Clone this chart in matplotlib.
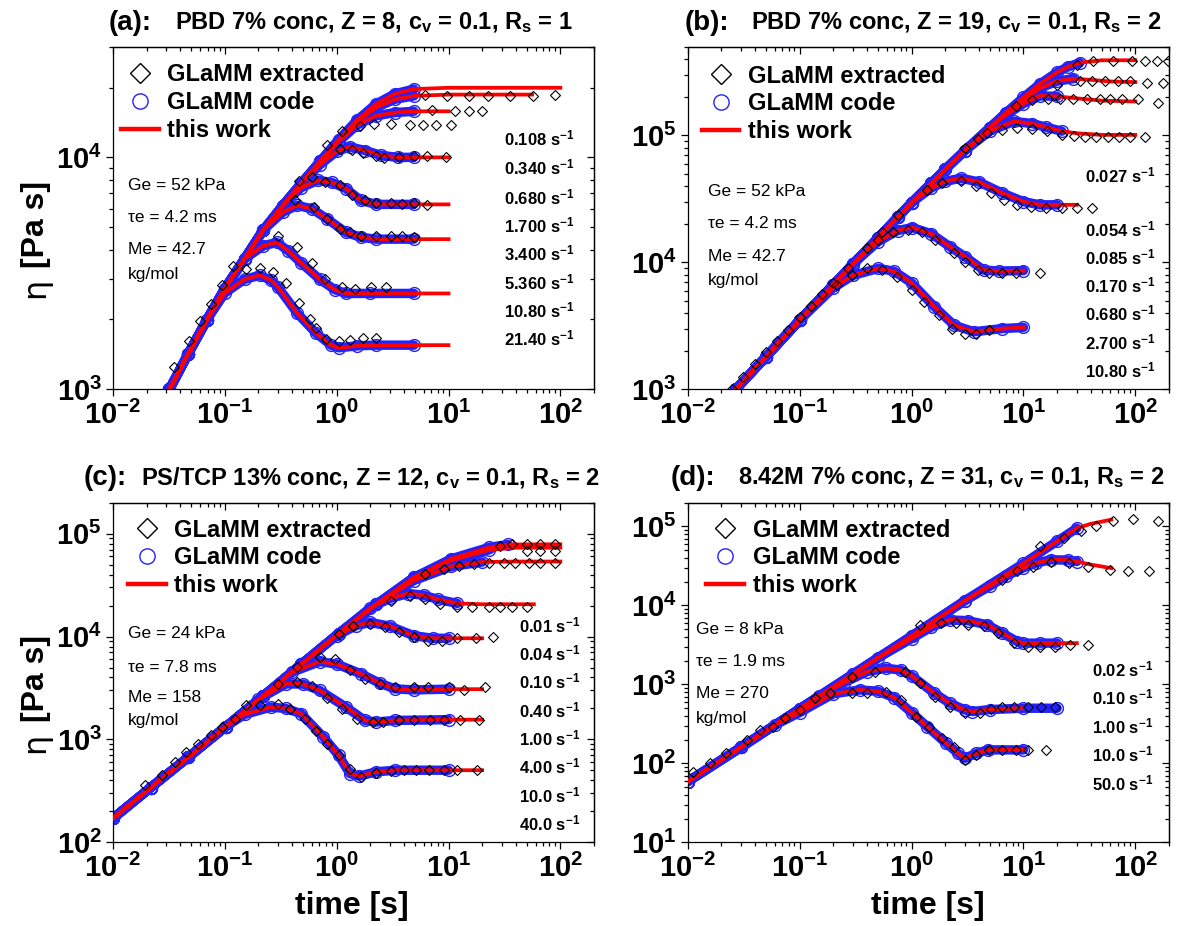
import numpy as np
import matplotlib
matplotlib.use("Agg")
import matplotlib.pyplot as plt
from matplotlib.lines import Line2D
from matplotlib.ticker import LogLocator, FuncFormatter, NullFormatter

plt.rcParams["font.family"] = ["Liberation Sans", "DejaVu Sans"]
plt.rcParams["mathtext.fontset"] = "custom"
for k in ("rm", "it", "bf", "sf"):
    plt.rcParams["mathtext." + k] = "Liberation Sans:bold"

# ---------------- panel (a) PBD 7%, Z = 8 ----------------
a_rates = ["0.108", "0.340", "0.680", "1.700", "3.400", "5.360", "10.80", "21.40"]
a_t = [
    [0.032, 0.047, 0.069, 0.10, 0.15, 0.22, 0.33, 0.48, 0.71, 1.04, 1.53, 2.25, 3.32, 4.9, 10, 100],
    [0.032, 0.047, 0.069, 0.10, 0.15, 0.22, 0.33, 0.48, 0.71, 1.04, 1.53, 2.25, 3.32, 4.9, 10, 56],
    [0.032, 0.047, 0.069, 0.10, 0.15, 0.22, 0.33, 0.48, 0.71, 1.04, 1.53, 2.25, 3.32, 4.9, 10],
    [0.032, 0.047, 0.069, 0.10, 0.15, 0.22, 0.33, 0.48, 0.71, 1.0, 1.31, 1.8, 2.5, 3.5, 4.9, 10],
    [0.032, 0.047, 0.069, 0.10, 0.15, 0.22, 0.33, 0.48, 0.68, 0.9, 1.21, 1.65, 2.25, 4.9, 10],
    [0.032, 0.047, 0.069, 0.10, 0.15, 0.22, 0.33, 0.443, 0.6, 0.82, 1.21, 1.65, 2.25, 4.9, 10],
    [0.032, 0.047, 0.069, 0.10, 0.15, 0.22, 0.29, 0.37, 0.48, 0.706, 0.96, 1.21, 2.0, 4.9, 10],
    [0.032, 0.047, 0.069, 0.10, 0.15, 0.205, 0.26, 0.30, 0.443, 0.65, 0.89, 1.04, 1.53, 2.25, 4.9, 10],
]
a_eta = [
    [1000, 1420, 1990, 2720, 3650, 4850, 6200, 7700, 9600, 11900, 14500, 17000, 18800, 19700, 19950, 19950],
    [1000, 1420, 1990, 2720, 3650, 4850, 6200, 7700, 9600, 11900, 14300, 16400, 17800, 18400, 18650, 18650],
    [1000, 1420, 1990, 2720, 3650, 4850, 6200, 7700, 9600, 11700, 13800, 15100, 15600, 15800, 15800],
    [1000, 1420, 1990, 2720, 3650, 4850, 6200, 7700, 9300, 10600, 11100, 10700, 10200, 10000, 10000, 10000],
    [1000, 1420, 1990, 2720, 3650, 4850, 6200, 7400, 7960, 7800, 7330, 6520, 6270, 6270, 6270],
    [1000, 1420, 1990, 2720, 3650, 4850, 5800, 6210, 6000, 5430, 4750, 4520, 4440, 4440, 4440],
    [1000, 1420, 1990, 2720, 3650, 4150, 4300, 3950, 3510, 2980, 2690, 2590, 2590, 2590, 2590],
    [1000, 1420, 1990, 2600, 2980, 3100, 2950, 2750, 2130, 1750, 1550, 1510, 1540, 1550, 1550, 1550],
]
a_red_end = [100, 56, 10, 10, 10, 10, 10, 10]
a_code_end = [5, 5, 5, 5, 5, 5, 5, 5]
a_ext_t = [0.035, 0.048, 0.060, 0.075, 0.094, 0.119,
           0.156, 0.205, 0.268, 0.352, 0.461, 0.582, 0.654, 0.811, 1.04, 1.31, 1.72, 2.25,
           0.301, 0.443, 0.605, 0.793, 1.12, 1.47, 2.01, 2.74,
           0.427, 0.628, 0.824, 1.08, 1.31, 1.65, 2.25, 3.07, 3.87, 4.89,
           0.461, 0.605, 0.793, 1.08, 1.36, 1.79, 2.25, 3.07, 3.87, 4.89, 6.41,
           0.824, 1.08, 1.36, 1.72, 2.25, 2.63, 3.59, 4.89, 6.41, 9.44,
           1.12, 1.63, 2.17, 3.07, 4.52, 5.93, 7.78, 10.6,
           7.19, 11.4, 15.1, 20.1,
           6.17, 9.6, 15.3, 22.6, 35.3, 57, 89]
a_ext_eta = [1250, 1620, 1975, 2340, 2830, 3400,
             3310, 3350, 3200, 2880, 2360, 2010, 1835, 1644, 1622, 1634, 1661, 1672,
             4560, 4090, 3520, 2980, 2770, 2710, 2770, 2770,
             6520, 6100, 5430, 4910, 4750, 4600, 4570, 4570, 4570, 4520,
             7890, 8240, 7830, 7580, 6860, 6520, 6370, 6370, 6310, 6370, 6250,
             11300, 10870, 10760, 10400, 10160, 9970, 10070, 10160, 10160, 10070,
             12930, 13600, 13920, 13920, 13820, 13820, 13820, 13820,
             16060, 15800, 15900, 15800,
             18540, 18350, 18350, 18350, 18350, 18350, 18500]
a_params = ["Ge = 52 kPa", "\u03c4e = 4.2 ms", "Me = 42.7", "kg/mol"]

# ---------------- panel (b) PBD 7%, Z = 19 ----------------
b_rates = ["0.027", "0.054", "0.085", "0.170", "0.680", "2.700", "10.80"]
b_t = [
    [0.0269, 0.05, 0.1, 0.2, 0.3, 0.5, 0.75, 1.0, 1.5, 2.0, 3.0, 5.0, 7.0, 10, 14, 20, 25, 32, 50, 100],
    [0.0269, 0.05, 0.1, 0.2, 0.3, 0.5, 0.75, 1.0, 1.5, 2.0, 3.0, 5.0, 7.0, 10, 14, 20, 28, 40, 60, 100],
    [0.0269, 0.05, 0.1, 0.2, 0.3, 0.5, 0.75, 1.0, 1.5, 2.0, 3.0, 5.0, 7.0, 10, 14, 20, 30, 50, 100],
    [0.0269, 0.05, 0.1, 0.2, 0.3, 0.5, 0.75, 1.0, 1.5, 2.0, 3.0, 5.0, 8.2, 12, 16, 22, 30, 50, 100],
    [0.0269, 0.05, 0.1, 0.2, 0.3, 0.5, 0.75, 1.0, 1.5, 2.0, 2.77, 4.0, 6.5, 10, 14, 20, 30],
    [0.0269, 0.05, 0.1, 0.2, 0.3, 0.5, 0.75, 1.02, 1.5, 2.2, 3.0, 4.4, 6.0, 10],
    [0.0269, 0.05, 0.1, 0.2, 0.3, 0.507, 0.7, 1.0, 1.6, 2.4, 3.6, 6.5, 10],
]
b_eta = [
    [1000, 1800, 3500, 6650, 9700, 15500, 22600, 29500, 42000, 54000, 76000, 115000, 151000, 199000,
     254000, 314000, 347000, 374000, 391000, 391000],
    [1000, 1800, 3500, 6650, 9700, 15500, 22600, 29500, 42000, 54000, 76000, 115000, 151000, 190000,
     235000, 268000, 280000, 274000, 266000, 263000],
    [1000, 1800, 3500, 6650, 9700, 15500, 22600, 29500, 42000, 54000, 76000, 115000, 145000, 178000,
     205000, 203000, 196000, 188000, 185000],
    [1000, 1800, 3500, 6650, 9700, 15500, 22600, 29500, 42000, 54000, 76000, 108000, 129000, 124000,
     116000, 108000, 104000, 101000, 101000],
    [1000, 1800, 3500, 6650, 9700, 15500, 22600, 29500, 38500, 43500, 46000, 43000, 35100, 30100,
     28400, 28400, 28400],
    [1000, 1800, 3500, 6650, 9700, 14500, 17800, 18800, 16800, 13300, 11100, 8700, 8550, 8600],
    [1000, 1800, 3500, 6300, 7900, 8970, 8500, 6900, 4470, 3200, 2840, 3010, 3070],
]
b_red_end = [100, 100, 100, 100, 30, 10, 10]
b_code_end = [32, 28, 20, 22, 20, 10, 10]
b_ext_t = [0.025, 0.031, 0.04, 0.05, 0.063, 0.079, 0.1, 0.126, 0.159, 0.2, 0.27, 0.4, 0.55, 0.75,
           0.216, 0.295, 0.402, 0.547, 0.745, 1.02, 1.28, 1.75, 2.29, 3.0, 3.78, 4.95,
           0.507, 0.69, 0.94, 1.23, 1.61, 2.38, 3.0, 3.93, 4.95, 6.49, 8.5, 14.1,
           1.38, 1.88, 2.77, 3.78, 5.14, 6.74, 8.84, 11.6, 15.8, 22.3, 30.4, 41.4,
           3.0, 3.93, 4.77, 6.49, 8.84, 12.0, 16.4, 22.3, 28.2, 35.5, 44.7, 56.5, 71.2, 89.7, 122,
           8.5, 12, 16.6, 21.2, 27.7, 37, 48.3, 59.4, 76, 106, 160,
           20, 32, 40.7, 53.6, 70, 89.5, 126, 177,
           30, 41.9, 63, 93.3, 122, 156, 196]
b_ext_eta = [1000, 1250, 1580, 1950, 2400, 2950, 3700, 4550, 5600, 6900, 9000, 13000, 17500, 23500,
             6620, 7940, 8970, 8690, 7710, 6050, 4890, 3840, 3010, 2750, 2750, 2920,
             15000, 17500, 18000, 17500, 15000, 11800, 10100, 8690, 8280, 8280, 8280, 8280,
             37200, 42000, 43400, 39600, 35100, 31100, 28400, 27200, 26700, 26700, 26700, 26700,
             80000, 93000, 104000, 111000, 114000, 112000, 108000, 101000, 98100, 97000, 97000, 97000,
             97000, 97000, 97000,
             170000, 190000, 194000, 194000, 194000, 194000, 194000, 194000, 194000, 194000, 180000,
             250000, 270000, 270000, 270000, 270000, 270000, 260000, 260000,
             360000, 388000, 388000, 388000, 384000, 384000, 388000]
b_params = ["Ge = 52 kPa", "\u03c4e = 4.2 ms", "Me = 42.7", "kg/mol"]

# ---------------- panel (c) PS/TCP 13%, Z = 12 ----------------
c_rates = ["0.01", "0.04", "0.10", "0.40", "1.00", "4.00", "10.0", "40.0"]
c_t = [
    [0.01, 0.0217, 0.047, 0.102, 0.221, 0.48, 1.04, 2.25, 4.89, 10.6, 23, 34, 100],
    [0.01, 0.0217, 0.047, 0.102, 0.221, 0.48, 1.04, 2.25, 4.89, 10.6, 23, 40, 100],
    [0.01, 0.0217, 0.047, 0.102, 0.221, 0.48, 1.04, 2.25, 4.89, 10.6, 20, 40, 100],
    [0.01, 0.0217, 0.047, 0.102, 0.221, 0.48, 1.04, 2.0, 3.0, 4.35, 6.0, 8.0, 12, 20, 58],
    [0.01, 0.0217, 0.047, 0.102, 0.221, 0.48, 1.0, 1.5, 2.0, 3.0, 4.89, 7.2, 10, 20],
    [0.01, 0.0217, 0.047, 0.102, 0.221, 0.4, 0.706, 1.0, 1.65, 2.43, 3.32, 4.89, 10, 20],
    [0.01, 0.0217, 0.047, 0.102, 0.2, 0.352, 0.5, 0.706, 1.21, 1.79, 2.25, 3.32, 10, 20],
    [0.01, 0.0217, 0.047, 0.102, 0.15, 0.258, 0.35, 0.48, 0.76, 1.04, 1.31, 1.59, 2.25, 3.32, 10, 20],
]
c_eta = [
    [171, 340, 670, 1330, 2650, 5350, 10700, 20500, 37500, 57000, 73500, 78500, 78900],
    [171, 340, 670, 1330, 2650, 5350, 10700, 20500, 37500, 55000, 69500, 73100, 73100],
    [171, 340, 670, 1330, 2650, 5350, 10700, 20500, 35000, 48000, 53000, 53600, 53600],
    [171, 340, 670, 1330, 2650, 5350, 10700, 19000, 23500, 26200, 25200, 23000, 21000, 20600, 20600],
    [171, 340, 670, 1330, 2650, 5350, 10200, 12800, 13700, 12600, 10200, 9620, 9620, 9620],
    [171, 340, 670, 1330, 2650, 4500, 5710, 5400, 4340, 3520, 3100, 3030, 3080, 3080],
    [171, 340, 670, 1330, 2450, 3470, 3450, 2990, 2060, 1530, 1476, 1530, 1556, 1556],
    [171, 340, 670, 1330, 1750, 2060, 2000, 1780, 1057, 702, 466, 440, 484, 502, 502, 502],
]
c_red_end = [100, 100, 100, 58, 20, 20, 20, 20]
c_code_end = [34, 23, 20, 12, 10, 10, 10, 10]
c_ext_t = [0.0193, 0.0274, 0.0359, 0.0452, 0.057, 0.0748, 0.0944, 0.124,
           0.156, 0.205, 0.30, 0.38, 0.52, 0.654, 0.824, 1.04, 1.31, 1.65, 2.25, 3.07, 4.0, 5.1, 6.7,
           9.1, 11.9, 18.1,
           0.3, 0.44, 0.6, 0.82, 1.12, 1.53, 2.1, 2.6, 3.6, 4.9, 6.9, 9.1, 12.7, 18.9,
           0.44, 0.706, 0.96, 1.31, 1.79, 2.43, 3.32, 4.89, 6.6, 10, 13.8, 21.3,
           1.04, 1.41, 2.0, 2.7, 3.6, 4.9, 6.6, 8.7, 11.9, 17.7, 24.8,
           3.07, 4.52, 6.2, 8.4, 11.9, 16.2, 23, 29, 36.6, 50,
           6.2, 9.1, 12.4, 16.8, 23, 31.4, 39.4, 53, 66, 89,
           29, 36.6, 50, 66, 89, 50, 66, 89]
c_ext_eta = [359, 449, 604, 755, 909, 1097, 1320, 1590,
             2140, 2140, 2220, 1980, 1590, 1220, 910, 702, 520, 432, 472, 495, 502, 502, 502, 502, 502, 502,
             3470, 3600, 3330, 2550, 1980, 1590, 1476, 1476, 1530, 1530, 1530, 1530, 1556, 1556,
             5030, 6300, 6000, 4680, 3880, 3470, 3220, 3220, 3220, 3220, 2990, 3220,
             10600, 12700, 13200, 12300, 11000, 9830, 9120, 9120, 9620, 9620, 9830,
             22300, 24900, 23100, 20500, 19500, 19200, 19200, 19200, 19200, 19200,
             40400, 45100, 48600, 51000, 52400, 52400, 52400, 52400, 52400, 52400,
             75900, 80000, 80000, 80000, 80000, 67900, 67300, 67300]
c_params = ["Ge = 24 kPa", "\u03c4e = 7.8 ms", "Me = 158", "kg/mol"]

# ---------------- panel (d) 8.42M 7%, Z = 31 ----------------
d_rates = ["0.02", "0.10", "1.00", "10.0", "50.0"]
d_t = [
    [0.01, 0.03, 0.1, 0.3, 1.0, 3.0, 10, 20, 30, 40, 61],
    [0.01, 0.03, 0.1, 0.3, 1.0, 3.0, 5.0, 7.0, 10, 13, 17.7, 25, 30, 41, 61],
    [0.01, 0.03, 0.1, 0.3, 0.5, 1.0, 1.5, 2.2, 3.2, 4.77, 6.5, 8.8, 10, 14, 20, 30],
    [0.01, 0.03, 0.1, 0.15, 0.25, 0.4, 0.59, 0.8, 1.02, 1.6, 2.2, 3.0, 3.5, 5.0, 10, 20],
    [0.01, 0.03, 0.06, 0.1, 0.2, 0.344, 0.5, 0.7, 1.02, 1.38, 2.04, 2.6, 3.0, 3.8, 4.8, 10],
]
d_eta = [
    [58.7, 160, 490, 1350, 4100, 11500, 34000, 65000, 95000, 108000, 122000],
    [58.7, 160, 490, 1350, 4100, 11500, 17500, 23500, 30000, 34500, 37900, 37500, 36000, 32700, 29700],
    [58.7, 160, 490, 1350, 2160, 3800, 5300, 6560, 6400, 5680, 4450, 3490, 3330, 3330, 3330, 3330],
    [58.7, 160, 490, 711, 1050, 1450, 1600, 1520, 1260, 773, 577, 475, 453, 480, 499, 499],
    [58.7, 160, 305, 440, 760, 851, 820, 680, 431, 292, 180, 134, 116, 134, 148, 148],
]
d_red_end = [61, 61, 30, 10, 10]
d_code_end = [30, 30, 20, 20, 10]
d_ext_t = [0.0111, 0.0157, 0.0221, 0.0339, 0.0444, 0.0582, 0.0734, 0.1,
           0.136, 0.185, 0.295, 0.402, 0.59, 0.80, 1.10, 1.44, 1.88, 2.38, 3.0, 3.78, 4.95, 6.5, 8.5,
           11.1, 15.8,
           0.295, 0.47, 0.87, 1.18, 1.61, 2.2, 3.0, 4.1, 5.1, 6.5, 8.2, 11.1, 14.5, 19.0,
           1.18, 1.83, 2.5, 3.2, 4.4, 5.95, 8.2, 10.9, 14.1, 19.0, 26.2, 37.7,
           6.5, 8.8, 12.1, 17.7, 25.7, 37.7, 58.8, 86.6, 132,
           14.1, 23.1, 32.6, 44.7, 63, 95, 160]
d_ext_eta = [78.5, 100, 134, 198, 265, 292, 372, 475,
             668, 773, 773, 773, 811, 636, 391, 292, 208, 163, 110, 128, 148, 148, 148, 148, 148,
             1256, 1456, 1456, 1035, 702, 524, 431, 431, 484, 524, 524, 524, 524, 524,
             5680, 5960, 5960, 5680, 5410, 4450, 3330, 3010, 3010, 3010, 3180, 3180,
             21100, 26900, 31100, 36000, 34300, 31100, 28200, 27400, 27000,
             55800, 71100, 86500, 100000, 118000, 124000, 117000]
d_params = ["Ge = 8 kPa", "\u03c4e = 1.9 ms", "Me = 270", "kg/mol"]

# ---------------- drawing ----------------
W, H = 1181, 926
BLUE = "#2222ff"
fig = plt.figure(figsize=(W / 100, H / 100), dpi=100)


def T(x, y, s, **kw):
    kw.setdefault("va", "center")
    fig.text(x / W, 1 - y / H, s, **kw)


def decade(v, pos):
    return r"$10^{%d}$" % int(round(np.log10(v)))


def set_log_ticks(axis, labels=True):
    axis.set_major_locator(LogLocator(base=10, numticks=15))
    axis.set_minor_locator(LogLocator(base=10, subs=np.arange(2, 10), numticks=15))
    axis.set_major_formatter(FuncFormatter(decade) if labels else NullFormatter())
    axis.set_minor_formatter(NullFormatter())


def panel(box, ylim, ts, etas, red_end, code_end, ext_t, ext_eta, leg_xy):
    x0, y0, x1, y1 = box
    ax = fig.add_axes([x0 / W, 1 - y1 / H, (x1 - x0) / W, (y1 - y0) / H])
    ax.set_xscale("log")
    ax.set_yscale("log")
    for t, e, re_, ce in zip(ts, etas, red_end, code_end):
        t = np.array(t, float)
        e = np.array(e, float)
        m = t <= ce
        ax.plot(t[m], e[m], color=BLUE, lw=6.8, solid_capstyle="round",
                solid_joinstyle="round", zorder=2)
        ax.plot(t[m], e[m], ls="none", marker="o", ms=8.5, mfc="none", mec=BLUE,
                mew=1.0, zorder=2)
        m = t <= re_
        ax.plot(t[m], e[m], color="red", lw=2.7, solid_joinstyle="round", zorder=3)
    ax.plot(ext_t, ext_eta, ls="none", marker="D", ms=5.5, mfc="none", mec="black",
            mew=0.8, zorder=4)
    ax.set_xlim(1e-2, 2e2)
    ax.set_ylim(*ylim)
    set_log_ticks(ax.xaxis)
    set_log_ticks(ax.yaxis)
    ax.tick_params(which="both", direction="out", width=0.9, labelsize=21, pad=3)
    ax.tick_params(which="major", length=5)
    ax.tick_params(which="minor", length=3)
    for s in ax.spines.values():
        s.set_linewidth(0.9)
    sx = ax.secondary_xaxis("top")
    sy = ax.secondary_yaxis("right")
    set_log_ticks(sx.xaxis, labels=False)
    set_log_ticks(sy.yaxis, labels=False)
    for sa in (sx, sy):
        sa.tick_params(which="both", direction="in", width=0.9)
        sa.tick_params(which="major", length=5)
        sa.tick_params(which="minor", length=3)
        for s in sa.spines.values():
            s.set_linewidth(0.9)

    hs = [Line2D([], [], ls="none", marker="D", ms=10.5, mfc="none", mec="black", mew=1.0),
          Line2D([], [], ls="none", marker="o", ms=11, mfc="none", mec=BLUE, mew=1.0),
          Line2D([], [], color="red", lw=3.2)]
    ax.legend(hs, ["GLaMM extracted", "GLaMM code", "this work"], loc="upper left",
              bbox_to_anchor=leg_xy, frameon=False, prop={"weight": "bold", "size": 17},
              handlelength=1.6, handletextpad=0.35, labelspacing=0.2, borderpad=0,
              borderaxespad=0)
    return ax


panel((113, 46.7, 594, 389.3), (1e3, 3e4), a_t, a_eta, a_red_end, a_code_end,
      a_ext_t, a_ext_eta, (0.017, 0.951))
panel((687.7, 46.7, 1169, 389.3), (1e3, 5e5), b_t, b_eta, b_red_end, b_code_end,
      b_ext_t, b_ext_eta, (0.029, 0.948))
panel((113, 502.7, 594, 842.3), (1e2, 2e5), c_t, c_eta, c_red_end, c_code_end,
      c_ext_t, c_ext_eta, (0.032, 0.953))
panel((687.7, 502.7, 1169, 842.3), (1e1, 2e5), d_t, d_eta, d_red_end, d_code_end,
      d_ext_t, d_ext_eta, (0.039, 0.953))

# titles
tb = dict(weight="bold", ha="left")
T(109, 23, "(a):", size=20, **tb)
T(175, 23, "PBD 7% conc, Z = 8, c$_{v}$ = 0.1, R$_{s}$ = 1", size=17, **tb)
T(685, 23, "(b):", size=20, **tb)
T(751, 23, "PBD 7% conc, Z = 19, c$_{v}$ = 0.1, R$_{s}$ = 2", size=17, **tb)
T(84, 478, "(c):", size=20, **tb)
T(141, 478, "PS/TCP 13% conc, Z = 12, c$_{v}$ = 0.1, R$_{s}$ = 2", size=17, **tb)
T(671, 478, "(d):", size=20, **tb)
T(738, 478, "8.42M 7% conc, Z = 31, c$_{v}$ = 0.1, R$_{s}$ = 2", size=17, **tb)

# shear-rate labels
for x, ys, rates in [(504, [138, 167, 197, 225, 253, 282, 310, 338], a_rates),
                     (1085, [175, 229, 257, 285, 313, 342, 370], b_rates),
                     (519, [625, 653, 681, 710, 738, 766, 795, 823], c_rates),
                     (1092, [669, 697, 726, 754, 783], d_rates)]:
    for y, r in zip(ys, rates):
        T(x, y, r + " s$^{-1}$", size=12, weight="bold", ha="left")

# model parameters
for x, ys, lines in [(128, [185, 218, 249, 275], a_params),
                     (708, [192, 224, 256, 280], b_params),
                     (128, [633, 667, 697, 721], c_params),
                     (696, [630, 662, 694, 718], d_params)]:
    for y, s in zip(ys, lines):
        T(x, y, s, size=12.5, ha="left")

# axis labels
for yb, ye in [(224, 288), (678, 743)]:
    T(36, yb, "[Pa s]", size=23, weight="bold", rotation=90, ha="center")
    T(36, ye, "\u03b7", size=23, rotation=90, ha="center", family="DejaVu Sans")
T(352, 906, "time [s]", size=23, weight="bold", ha="center")
T(928, 906, "time [s]", size=23, weight="bold", ha="center")

fig.savefig("out.png", dpi=100)
